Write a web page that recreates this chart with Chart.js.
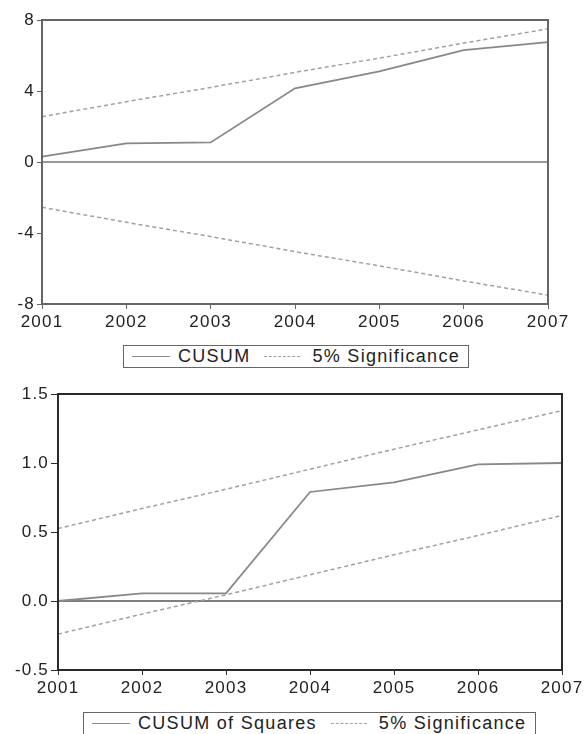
<!DOCTYPE html>
<html>
<head>
<meta charset="utf-8">
<script src="https://cdn.jsdelivr.net/npm/chart.js@4"></script>
<style>
  body { margin: 0; background: #fff; width: 587px; height: 734px; position: relative; overflow: hidden; font-family: "Liberation Sans", Arial, sans-serif; }
  canvas { position: absolute; left: 0; }
  .legend { position: absolute; height: 23px; border: 1.5px solid #666; display: flex; align-items: center; font-size: 18px; letter-spacing: 1.3px; color: #222; box-sizing: border-box; padding: 0 8px; white-space: nowrap; }
  .solid { display: inline-block; width: 38px; border-top: 1.8px solid #8c8c8c; margin-right: 8px; }
  .dash { display: inline-block; width: 36px; border-top: 1.5px dashed #a0a0a0; margin: 0 12px 0 14px; }
</style>
</head>
<body>
<canvas id="c1" width="587" height="340" style="top:0"></canvas>
<div class="legend" style="left:123px; top:345px; width:346px;">
  <span class="solid"></span>CUSUM<span class="dash"></span>5% Significance
</div>
<canvas id="c2" width="587" height="330" style="top:370px"></canvas>
<div class="legend" style="left:83px; top:712px; width:453px;">
  <span class="solid"></span>CUSUM of Squares<span class="dash"></span>5% Significance
</div>
<script>
// años de la muestra
const years = ['2001', '2002', '2003', '2004', '2005', '2006', '2007'];

// CUSUM y sus bandas al 5%
const cusum = [0.3, 1.05, 1.1, 4.15, 5.1, 6.3, 6.75];
const cusumUpper = [2.55, 3.4, 4.2, 5.05, 5.85, 6.7, 7.5];
const cusumLower = [-2.55, -3.4, -4.2, -5.05, -5.85, -6.7, -7.5];
const cusumTicks = [-8, -4, 0, 4, 8];

// CUSUM of Squares y sus bandas
const cusumSq = [0.0, 0.055, 0.055, 0.79, 0.86, 0.99, 1.0];
const sqUpper = [0.525, 0.67, 0.81, 0.955, 1.1, 1.24, 1.38];
const sqLower = [-0.24, -0.095, 0.045, 0.19, 0.335, 0.475, 0.62];
const sqTicks = [-0.5, 0.0, 0.5, 1.0, 1.5];

const tickFont = { family: 'Liberation Sans', size: 17 };

// marco del gráfico + línea del cero
function framePlugin(frameColor, zeroColor) {
  return {
    id: 'frame',
    beforeDraw(chart) { chart.ctx.letterSpacing = '1.2px'; },
    beforeDatasetsDraw(chart) {
      const { ctx, chartArea: a, scales } = chart;
      const y0 = scales.y.getPixelForValue(0);
      ctx.save();
      ctx.strokeStyle = zeroColor;
      ctx.lineWidth = 1.5;
      ctx.beginPath();
      ctx.moveTo(a.left, y0);
      ctx.lineTo(a.right, y0);
      ctx.stroke();
      ctx.restore();
    },
    afterDatasetsDraw(chart) {
      const { ctx, chartArea: a } = chart;
      ctx.save();
      ctx.strokeStyle = frameColor;
      ctx.lineWidth = 2;
      ctx.strokeRect(a.left, a.top, a.right - a.left, a.bottom - a.top);
      ctx.restore();
    }
  };
}

function makeChart(id, main, upper, lower, ticks, opts) {
  const solid = { borderColor: '#888', borderWidth: 1.8, pointRadius: 0, tension: 0, fill: false };
  const dashed = { borderColor: '#a0a0a0', borderWidth: 1.5, borderDash: [4, 3], pointRadius: 0, tension: 0, fill: false };
  return new Chart(document.getElementById(id).getContext('2d'), {
    type: 'line',
    data: {
      labels: years,
      datasets: [
        Object.assign({ label: 'main', data: main }, solid),
        Object.assign({ label: 'up', data: upper }, dashed),
        Object.assign({ label: 'low', data: lower }, dashed)
      ]
    },
    options: {
      responsive: false,
      animation: false,
      devicePixelRatio: 1,
      layout: { padding: opts.padding },
      plugins: { legend: { display: false }, tooltip: { enabled: false } },
      scales: {
        x: {
          offset: false,
          grid: { drawOnChartArea: false, drawTicks: true, tickLength: 5, color: opts.frame },
          border: { display: false },
          ticks: { font: tickFont, color: '#222', padding: 3, maxRotation: 0, autoSkip: false },
          afterFit(s) { s.height = 30; }
        },
        y: {
          min: ticks[0],
          max: ticks[ticks.length - 1],
          afterBuildTicks(s) { s.ticks = ticks.map(v => ({ value: v })); },
          grid: { drawOnChartArea: false, drawTicks: true, tickLength: opts.tickLen, color: opts.frame },
          border: { display: false },
          ticks: { font: tickFont, color: '#222', padding: 2, callback: opts.fmt },
          afterFit(s) { s.width = opts.yWidth; }
        }
      }
    },
    plugins: [framePlugin(opts.frame, opts.zero)]
  });
}

makeChart('c1', cusum, cusumUpper, cusumLower, cusumTicks, {
  padding: { top: 20, right: 39, bottom: 6, left: 0 },
  yWidth: 42, tickLen: 5, frame: '#666', zero: '#777',
  fmt: v => String(v)
});

makeChart('c2', cusumSq, sqUpper, sqLower, sqTicks, {
  padding: { top: 24, right: 25, bottom: 0, left: 0 },
  yWidth: 58, tickLen: 7, frame: '#2a2a2a', zero: '#555',
  fmt: v => v.toFixed(1)
});
</script>
</body>
</html>
